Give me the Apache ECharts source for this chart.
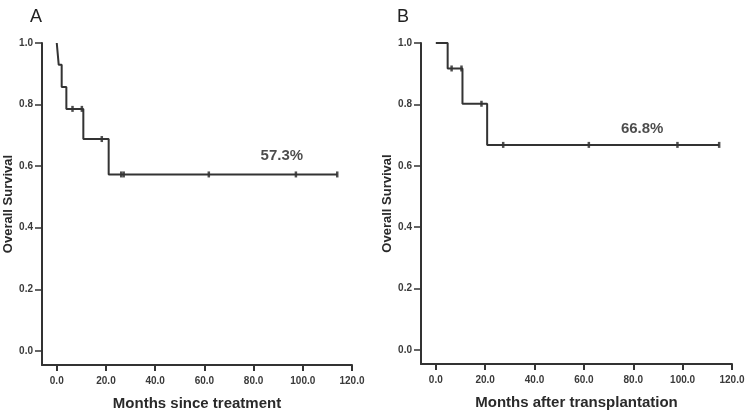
<!DOCTYPE html>
<html><head><meta charset="utf-8">
<script src="https://cdn.jsdelivr.net/npm/echarts@6/dist/echarts.min.js"></script>
<style>html,body{margin:0;padding:0;background:#fff}#c{width:750px;height:415px}</style>
</head><body><div id="c"></div>
<script>
// Panel A data
const dropTimesA = [0.8, 2.0, 3.9, 10.8, 21.1];
const survA = [0.929, 0.857, 0.786, 0.688, 0.573];
const endA = 114;
const censorA = [6.4, 10.2, 18.3, 26.2, 27.2, 61.8, 97.2, 114];
const labelA = {text: '57.3%', x: 91.5, y: 0.634};
// Panel B data
const dropTimesB = [4.8, 10.8, 20.8];
const survB = [0.917, 0.802, 0.668];
const endB = 114.8;
const censorB = [6.4, 10.4, 18.5, 27.3, 62, 97.9, 114.8];
const labelB = {text: '66.8%', x: 83.6, y: 0.72};
// Ticks
const xTicks = [0, 20, 40, 60, 80, 100, 120];
const yTicks = [0, 0.2, 0.4, 0.6, 0.8, 1.0];
const titles = {A: 'Months since treatment', B: 'Months after transplantation', y: 'Overall Survival'};

function stepPts(times, surv, end) {
  const pts = [[0, 1]];
  let prev = 1;
  times.forEach((t, i) => { pts.push([t, prev]); pts.push([t, surv[i]]); prev = surv[i]; });
  pts.push([end, prev]);
  return pts;
}
function survAt(times, surv, t) {
  let s = 1;
  times.forEach((tt, i) => { if (tt <= t) s = surv[i]; });
  return s;
}
const lblStyle = {fontSize: 10, fontWeight: 'bold', color: '#3a3a3a', fontFamily: 'Liberation Sans'};
function xAxis(idx, name) {
  return {
    type: 'value', gridIndex: idx, min: -6, max: 120,
    name: name, nameLocation: 'middle', nameGap: 31,
    nameTextStyle: {fontSize: 15, fontWeight: 'bold', color: '#2a2a2a', fontFamily: 'Liberation Sans'},
    axisLine: {onZero: false, lineStyle: {color: '#333', width: 2}},
    axisTick: {show: true, customValues: xTicks, length: 6, lineStyle: {color: '#333', width: 2}},
    axisLabel: {customValues: xTicks, formatter: v => v.toFixed(1), margin: 11, ...lblStyle},
    splitLine: {show: false}
  };
}
function yAxis(idx) {
  return {
    type: 'value', gridIndex: idx, min: -0.046, max: 1.0,
    name: titles.y, nameLocation: 'middle', nameGap: 27,
    nameTextStyle: {fontSize: 13, fontWeight: 'bold', color: '#2a2a2a', fontFamily: 'Liberation Sans'},
    axisLine: {show: true, onZero: false, lineStyle: {color: '#333', width: 2}},
    axisTick: {show: true, customValues: yTicks, length: 7, lineStyle: {color: '#333', width: 1.5}},
    axisLabel: {customValues: yTicks, formatter: v => v.toFixed(1), margin: 9, ...lblStyle},
    splitLine: {show: false}
  };
}
function series(idx, times, surv, end, censor, label) {
  return [
    {type: 'line', xAxisIndex: idx, yAxisIndex: idx, data: stepPts(times, surv, end),
     showSymbol: false, symbol: 'none', lineStyle: {color: '#333', width: 2}, silent: true, animation: false},
    {type: 'scatter', xAxisIndex: idx, yAxisIndex: idx,
     data: censor.map(t => [t, survAt(times, surv, t)]),
     symbol: 'rect', symbolSize: [2.5, 6], itemStyle: {color: '#222'}, animation: false},
    {type: 'scatter', xAxisIndex: idx, yAxisIndex: idx, data: [[label.x, label.y]],
     symbolSize: 0, animation: false, silent: true,
     label: {show: true, position: 'inside', formatter: label.text, fontSize: 15, fontWeight: 'bold',
             color: '#1e1e1e', fontFamily: 'Liberation Sans'}}
  ];
}
const chart = echarts.init(document.getElementById('c'), null, {renderer: 'canvas'});
chart.setOption({
  animation: false,
  backgroundColor: '#fff',
  title: [
    {text: 'A', left: 25, top: 3, textStyle: {fontSize: 18, fontWeight: 'normal', color: '#222', fontFamily: 'Liberation Sans'}},
    {text: 'B', left: 392, top: 3, textStyle: {fontSize: 18, fontWeight: 'normal', color: '#222', fontFamily: 'Liberation Sans'}}
  ],
  grid: [
    {left: 42, right: 398, top: 43, bottom: 50, containLabel: false, outerBoundsMode: 'none'},
    {left: 421, right: 18, top: 43, bottom: 51, containLabel: false, outerBoundsMode: 'none'}
  ],
  xAxis: [xAxis(0, titles.A), xAxis(1, titles.B)],
  yAxis: [yAxis(0), yAxis(1)],
  series: [...series(0, dropTimesA, survA, endA, censorA, labelA), ...series(1, dropTimesB, survB, endB, censorB, labelB)]
});
</script></body></html>
